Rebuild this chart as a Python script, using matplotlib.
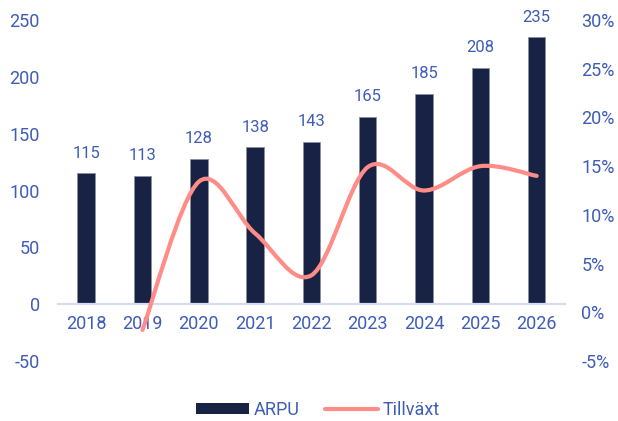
import numpy as np
import matplotlib.pyplot as plt
from matplotlib.path import Path
from matplotlib.patches import PathPatch, Patch
from matplotlib.lines import Line2D

plt.rcParams['font.family'] = ['Roboto', 'DejaVu Sans']
plt.rcParams['axes.unicode_minus'] = False

# data
years = ['2018', '2019', '2020', '2021', '2022', '2023', '2024', '2025', '2026']
arpu = [115, 113, 128, 138, 143, 165, 185, 208, 235]
growth_years = years[1:]
growth = [-1.8, 13.4, 8.1, 3.8, 14.9, 12.5, 15.0, 14.0]  # percent

text_col = '#3F5CB6'
bar_col = '#172245'
line_col = '#FF8C87'

fig = plt.figure(figsize=(6.18, 4.21), dpi=100)
ax = fig.add_axes([0.0939, 0.1425, 0.820, 0.81])
ax2 = ax.twinx()

x = np.arange(len(years))
bars = ax.bar(x, arpu, width=0.31, color=bar_col, edgecolor='#8A90A0', linewidth=0.6, zorder=2)
for xi, v in zip(x, arpu):
    ax.annotate(str(v), (xi, v), xytext=(0, 9), textcoords='offset points',
                ha='center', va='bottom', fontsize=12, color=text_col)

ax.set_xlim(-0.5, len(years) - 0.5)
ax.set_ylim(-50, 250)
ax.set_yticks(range(-50, 251, 50))
ax.set_xticks(x)
ax.set_xticklabels(years)

# smooth growth line as cubic bezier through the points
gx = np.array([years.index(y) for y in growth_years], dtype=float)
gy = np.array(growth, dtype=float)
pts = np.column_stack([gx, gy])
verts = [pts[0]]
codes = [Path.MOVETO]
n = len(pts)
for i in range(n - 1):
    p0 = pts[i - 1] if i > 0 else pts[i]
    p1 = pts[i]
    p2 = pts[i + 1]
    p3 = pts[i + 2] if i + 2 < n else pts[i + 1]
    c1 = p1 + (p2 - p0) / 6.0
    c2 = p2 - (p3 - p1) / 6.0
    verts += [c1, c2, p2]
    codes += [Path.CURVE4] * 3
ax2.add_patch(PathPatch(Path(verts, codes), facecolor='none', edgecolor=line_col,
                        lw=3, capstyle='round', zorder=3))
ax2.set_ylim(-5, 30)
ax2.set_yticks(range(-5, 31, 5))
ax2.set_yticklabels([f'{t}%' for t in range(-5, 31, 5)])

for a in (ax, ax2):
    for s in a.spines.values():
        s.set_visible(False)
    a.tick_params(length=0, labelsize=13, labelcolor=text_col)

# x axis sits on the zero line
ax.spines['bottom'].set_visible(True)
ax.spines['bottom'].set_position(('data', 0))
ax.spines['bottom'].set_color('#D3DCF2')
ax.spines['bottom'].set_linewidth(1.6)
ax.tick_params(axis='x', pad=8)
ax.tick_params(axis='y', pad=13)
ax2.tick_params(axis='y', pad=12)

handles = [Patch(facecolor=bar_col, edgecolor='none'),
           Line2D([0], [0], color=line_col, lw=3, solid_capstyle='round')]
fig.legend(handles, ['ARPU', 'Tillväxt'], loc='center', bbox_to_anchor=(0.515, 0.026),
           ncol=2, frameon=False, fontsize=13, labelcolor=text_col,
           handlelength=2.9, handleheight=0.55, handletextpad=0.3, columnspacing=1.4)

fig.savefig('out.png', dpi=100)
